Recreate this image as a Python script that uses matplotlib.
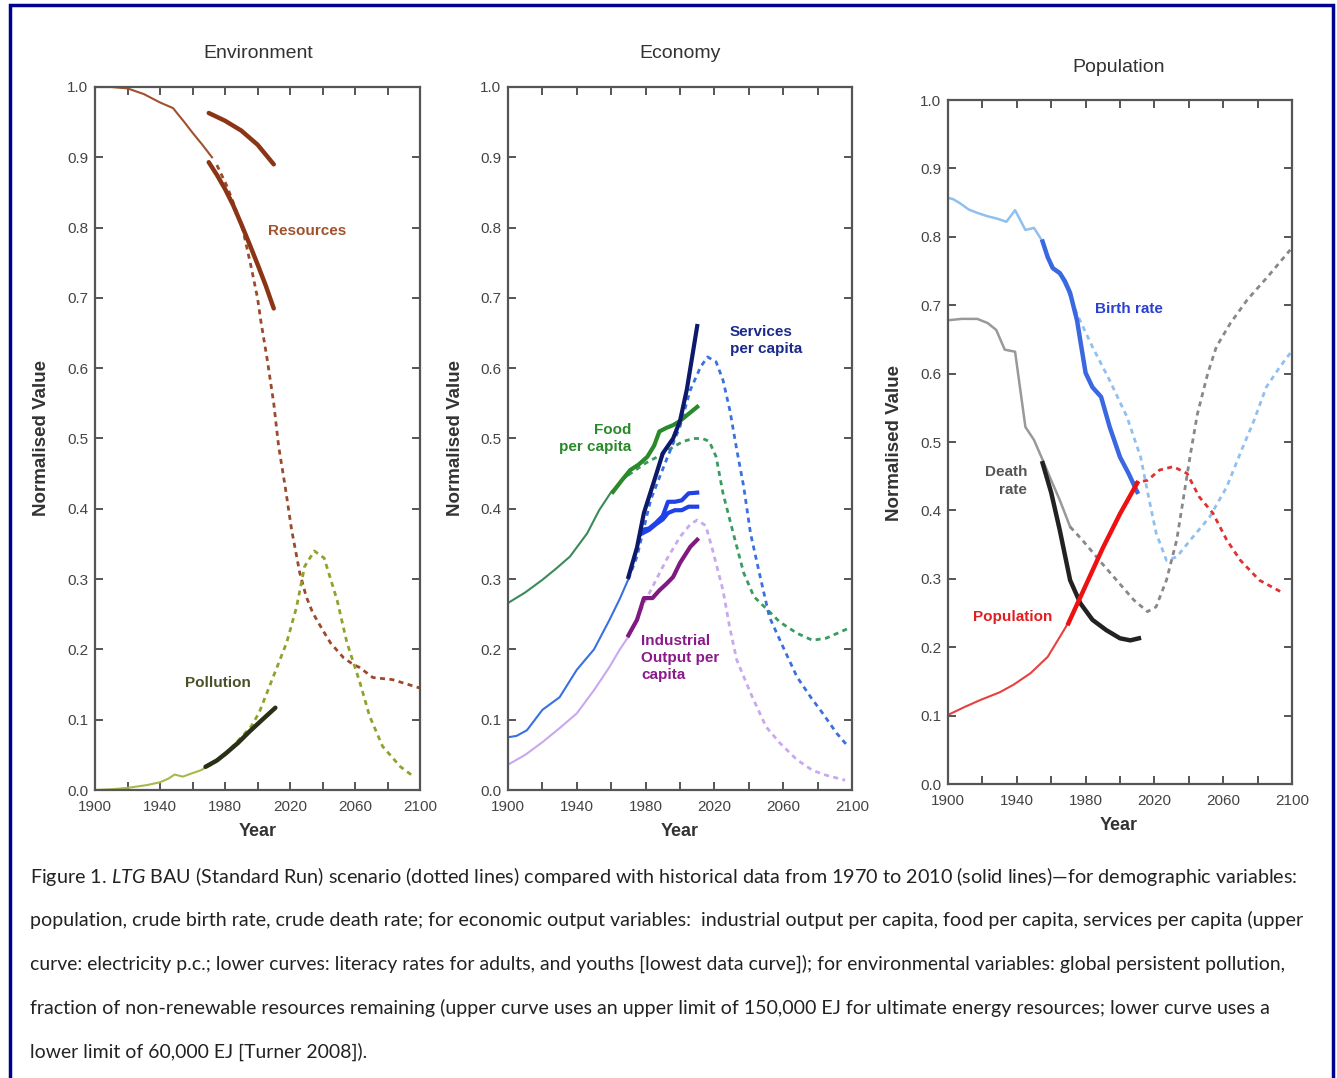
import matplotlib
matplotlib.use("Agg")
import matplotlib.pyplot as plt
from matplotlib.patches import Rectangle
from matplotlib.ticker import MultipleLocator, FixedLocator, FormatStrFormatter

plt.rcParams['font.family'] = ['Liberation Sans', 'DejaVu Sans']
plt.rcParams['mathtext.fontset'] = 'custom'
plt.rcParams['mathtext.rm'] = 'Lato'
plt.rcParams['mathtext.it'] = 'Lato:italic'

year_labels = [1900, 1940, 1980, 2020, 2060, 2100]
year_ticks = [1900, 1920, 1940, 1960, 1980, 2000, 2020, 2040, 2060, 2080, 2100]

# ---- Environment ----
res_model_solid_yr = [1900, 1910, 1920, 1930, 1940, 1948, 1955, 1960, 1966, 1972]
res_model_solid = [1.0, 1.0, 0.998, 0.99, 0.978, 0.97, 0.95, 0.935, 0.918, 0.90]
res_model_dash_yr = [1975, 1981, 1986, 1991, 1996, 2000, 2002, 2006, 2010, 2013, 2017, 2021,
                     2026, 2030, 2034, 2040, 2045, 2053, 2058, 2063, 2071, 2083, 2100]
res_model_dash = [0.889, 0.86, 0.83, 0.797, 0.745, 0.70, 0.668, 0.612, 0.55, 0.489, 0.432, 0.37,
                  0.309, 0.275, 0.252, 0.228, 0.209, 0.188, 0.18, 0.174, 0.16, 0.157, 0.145]
res_low_yr = [1970, 1975, 1980, 1985, 1990, 1995, 2000, 2005, 2010]
res_low = [0.893, 0.875, 0.855, 0.832, 0.805, 0.777, 0.748, 0.718, 0.685]
res_high_yr = [1970, 1980, 1990, 2000, 2010]
res_high = [0.963, 0.952, 0.938, 0.918, 0.89]

pol_model_solid_yr = [1900, 1910, 1920, 1932, 1940, 1945, 1949, 1954, 1960, 1965, 1970]
pol_model_solid = [0.0, 0.001, 0.003, 0.007, 0.011, 0.016, 0.022, 0.019, 0.024, 0.028, 0.034]
pol_model_dash_yr = [1970, 1980, 1990, 1996, 2001, 2009, 2018, 2024, 2029, 2035, 2041, 2049,
                     2055, 2063, 2069, 2077, 2088, 2095]
pol_model_dash = [0.034, 0.05, 0.075, 0.09, 0.11, 0.157, 0.21, 0.26, 0.318, 0.34, 0.33, 0.27,
                  0.21, 0.153, 0.105, 0.062, 0.033, 0.021]
pol_hist_yr = [1968, 1975, 1981, 1988, 1995, 2002, 2011]
pol_hist = [0.033, 0.042, 0.053, 0.067, 0.083, 0.098, 0.117]

# ---- Economy ----
food_model_solid_yr = [1900, 1910, 1920, 1928, 1936, 1946, 1953, 1960, 1966, 1970]
food_model_solid = [0.266, 0.281, 0.299, 0.315, 0.332, 0.365, 0.398, 0.424, 0.44, 0.448]
food_model_dash_yr = [1970, 1980, 1990, 1996, 2002, 2008, 2013, 2017, 2021, 2025, 2031, 2037,
                      2043, 2051, 2058, 2068, 2077, 2085, 2098]
food_model_dash = [0.448, 0.465, 0.478, 0.488, 0.496, 0.50, 0.50, 0.496, 0.474, 0.422, 0.365, 0.309,
                   0.275, 0.256, 0.239, 0.223, 0.213, 0.216, 0.23]
food_hist_yr = [1961, 1966, 1971, 1976, 1981, 1985, 1988, 1992, 1996, 2000, 2004, 2010]
food_hist = [0.424, 0.44, 0.455, 0.463, 0.474, 0.49, 0.51, 0.515, 0.519, 0.525, 0.533, 0.545]

serv_model_solid_yr = [1900, 1905, 1911, 1920, 1930, 1940, 1950, 1959, 1965, 1970]
serv_model_solid = [0.075, 0.077, 0.085, 0.114, 0.132, 0.171, 0.20, 0.242, 0.272, 0.30]
serv_model_dash_yr = [1970, 1975, 1983, 1992, 2000, 2006, 2012, 2016, 2021, 2025, 2029, 2033,
                      2037, 2041, 2046, 2052, 2060, 2068, 2076, 2083, 2091, 2097]
serv_model_dash = [0.30, 0.332, 0.413, 0.469, 0.517, 0.569, 0.602, 0.616, 0.609, 0.583, 0.54, 0.484,
                   0.432, 0.365, 0.31, 0.246, 0.203, 0.161, 0.132, 0.109, 0.081, 0.064]
elec_hist_yr = [1970, 1975, 1979, 1985, 1990, 1996, 2000, 2004, 2007, 2010]
elec_hist = [0.303, 0.345, 0.394, 0.44, 0.479, 0.50, 0.525, 0.57, 0.615, 0.66]
lit_yr = [1978, 1982, 1986, 1990, 1993, 1997, 2001, 2005, 2010]
lit_adult = [0.37, 0.372, 0.38, 0.39, 0.41, 0.41, 0.412, 0.422, 0.423]
lit_youth = [0.365, 0.37, 0.378, 0.385, 0.394, 0.398, 0.398, 0.403, 0.403]

ind_model_solid_yr = [1900, 1910, 1920, 1930, 1940, 1950, 1959, 1965, 1970]
ind_model_solid = [0.036, 0.05, 0.068, 0.088, 0.109, 0.142, 0.175, 0.20, 0.218]
ind_model_dash_yr = [1970, 1980, 1992, 2000, 2006, 2010, 2015, 2019, 2025, 2029, 2033, 2041,
                     2050, 2058, 2068, 2077, 2085, 2096]
ind_model_dash = [0.218, 0.27, 0.327, 0.36, 0.378, 0.384, 0.376, 0.341, 0.284, 0.23, 0.185, 0.138,
                  0.09, 0.067, 0.043, 0.028, 0.021, 0.014]
ind_hist_yr = [1970, 1975, 1979, 1984, 1988, 1992, 1996, 2000, 2006, 2010]
ind_hist = [0.22, 0.242, 0.273, 0.273, 0.284, 0.293, 0.303, 0.323, 0.346, 0.356]

# ---- Population ----
birth_model_solid_yr = [1900, 1903, 1907, 1912, 1917, 1923, 1928, 1934, 1939, 1945, 1950, 1955,
                        1960, 1965, 1970]
birth_model_solid = [0.857, 0.855, 0.849, 0.84, 0.835, 0.83, 0.827, 0.822, 0.839, 0.81, 0.813, 0.793,
                     0.755, 0.745, 0.72]
birth_model_dash_yr = [1970, 1975, 1984, 1994, 2004, 2012, 2017, 2021, 2027, 2033, 2041, 2052,
                       2062, 2070, 2078, 2085, 2093, 2099]
birth_model_dash = [0.72, 0.687, 0.639, 0.59, 0.537, 0.478, 0.415, 0.367, 0.327, 0.332, 0.357, 0.39,
                    0.434, 0.484, 0.532, 0.58, 0.61, 0.63]
birth_hist_yr = [1955, 1958, 1961, 1965, 1968, 1971, 1975, 1980, 1984, 1989, 1994, 2000, 2005, 2010]
birth_hist = [0.793, 0.77, 0.754, 0.747, 0.735, 0.718, 0.678, 0.601, 0.58, 0.566, 0.522, 0.478,
              0.454, 0.427]

death_model_solid_yr = [1900, 1908, 1917, 1923, 1928, 1933, 1939, 1945, 1950, 1955, 1960, 1965, 1971]
death_model_solid = [0.678, 0.68, 0.68, 0.674, 0.664, 0.635, 0.632, 0.522, 0.503, 0.474, 0.444,
                     0.415, 0.376]
death_model_dash_yr = [1971, 1978, 1988, 1998, 2008, 2016, 2021, 2027, 2033, 2037, 2041, 2045,
                       2051, 2056, 2064, 2074, 2086, 2099]
death_model_dash = [0.376, 0.357, 0.327, 0.298, 0.269, 0.252, 0.259, 0.298, 0.357, 0.42, 0.483,
                    0.541, 0.60, 0.639, 0.673, 0.708, 0.742, 0.781]
death_hist_yr = [1955, 1960, 1965, 1971, 1977, 1984, 1992, 2000, 2006, 2011]
death_hist = [0.469, 0.426, 0.371, 0.298, 0.264, 0.24, 0.225, 0.213, 0.21, 0.213]

pop_model_solid_yr = [1900, 1910, 1919, 1930, 1938, 1948, 1958, 1965, 1971]
pop_model_solid = [0.101, 0.113, 0.123, 0.134, 0.145, 0.162, 0.186, 0.215, 0.24]
pop_model_dash_yr = [2008, 2016, 2023, 2031, 2039, 2046, 2054, 2062, 2070, 2081, 2095]
pop_model_dash = [0.44, 0.444, 0.459, 0.464, 0.454, 0.42, 0.396, 0.357, 0.327, 0.298, 0.279]
pop_hist_yr = [1970, 1980, 1990, 2000, 2010]
pop_hist = [0.235, 0.29, 0.345, 0.395, 0.44]

caption = [
    "Figure 1. $\\mathit{LTG}$ BAU (Standard Run) scenario (dotted lines) compared with historical data from 1970 to 2010 (solid lines)\u2014for demographic variables:",
    "population, crude birth rate, crude death rate; for economic output variables:  industrial output per capita, food per capita, services per capita (upper",
    "curve: electricity p.c.; lower curves: literacy rates for adults, and youths [lowest data curve]); for environmental variables: global persistent pollution,",
    "fraction of non-renewable resources remaining (upper curve uses an upper limit of 150,000 EJ for ultimate energy resources; lower curve uses a",
    "lower limit of 60,000 EJ [Turner 2008]).",
]
caption_right = [1302, 1305, 1288, 1270, 369]

W, H = 1337, 1078
fig = plt.figure(figsize=(W / 100, H / 100), dpi=100)


def fx(x):
    return x / W


def fy(y):
    return 1 - y / H


def panel(l, t, r, b):
    ax = fig.add_axes([fx(l), fy(b), fx(r) - fx(l), fy(t) - fy(b)])
    ax.set_xlim(1900, 2100)
    ax.set_ylim(0, 1)
    ax.xaxis.set_major_locator(FixedLocator(year_labels))
    ax.xaxis.set_minor_locator(FixedLocator(year_ticks))
    ax.yaxis.set_major_locator(MultipleLocator(0.1))
    ax.yaxis.set_major_formatter(FormatStrFormatter('%.1f'))
    ax.tick_params(which='both', direction='in', top=True, right=True, length=6,
                   width=1.4, color='#555555', labelsize=11, labelcolor='#444444')
    ax.tick_params(axis='x', pad=7)
    ax.tick_params(axis='y', pad=5)
    for s in ax.spines.values():
        s.set_color('#555555')
        s.set_linewidth(1.6)
    return ax


DASH = (0, (1.8, 1.6))

# Environment panel
ax1 = panel(95, 87, 420, 790)
ax1.plot(res_model_solid_yr, res_model_solid, color='#a0522d', lw=1.5)
ax1.plot(res_model_dash_yr, res_model_dash, color='#9b4a2c', lw=2.0, ls=DASH)
ax1.plot(pol_model_solid_yr, pol_model_solid, color='#a8b84a', lw=1.5)
ax1.plot(pol_model_dash_yr, pol_model_dash, color='#8fa32a', lw=2.0, ls=DASH)
ax1.plot(res_low_yr, res_low, color='#8b3515', lw=3.2, solid_capstyle='round')
ax1.plot(res_high_yr, res_high, color='#8b3515', lw=3.2, solid_capstyle='round')
ax1.plot(pol_hist_yr, pol_hist, color='#283018', lw=3.2, solid_capstyle='round')
ax1.text(2006.5, 0.795, "Resources", color='#a0522d', fontsize=11, fontweight='bold', va='center')
ax1.text(1955.4, 0.152, "Pollution", color='#4a5028', fontsize=11, fontweight='bold', va='center')

# Economy panel
ax2 = panel(508, 87, 852, 790)
ax2.plot(food_model_solid_yr, food_model_solid, color='#3a8a5a', lw=1.5)
ax2.plot(food_model_dash_yr, food_model_dash, color='#3a9a60', lw=2.0, ls=DASH)
ax2.plot(serv_model_solid_yr, serv_model_solid, color='#3a70e0', lw=1.5)
ax2.plot(serv_model_dash_yr, serv_model_dash, color='#3a70e0', lw=2.0, ls=DASH)
ax2.plot(ind_model_solid_yr, ind_model_solid, color='#c8a8f0', lw=1.5)
ax2.plot(ind_model_dash_yr, ind_model_dash, color='#c8a8f0', lw=2.0, ls=DASH)
ax2.plot(food_hist_yr, food_hist, color='#2a8a2a', lw=3.0)
ax2.plot(lit_yr, lit_adult, color='#2040e8', lw=3.0)
ax2.plot(lit_yr, lit_youth, color='#2040e8', lw=3.0)
ax2.plot(ind_hist_yr, ind_hist, color='#801a80', lw=3.0)
ax2.plot(elec_hist_yr, elec_hist, color='#0d1a6b', lw=3.0)
ax2.text(2029, 0.639, "Services\nper capita", color='#1a2a8a', fontsize=11, fontweight='bold',
         va='center', linespacing=1.3)
ax2.text(1971.5, 0.50, "Food\nper capita", color='#2a8a2a', fontsize=11, fontweight='bold',
         va='center', ha='right', multialignment='right', linespacing=1.3)
ax2.text(1977.3, 0.188, "Industrial\nOutput per\ncapita", color='#8a1a8a', fontsize=11,
         fontweight='bold', va='center', linespacing=1.3)

# Population panel
ax3 = panel(948, 100, 1292, 784)
ax3.plot(birth_model_solid_yr, birth_model_solid, color='#90c0f0', lw=1.8)
ax3.plot(birth_model_dash_yr, birth_model_dash, color='#90c0f0', lw=2.0, ls=DASH)
ax3.plot(death_model_solid_yr, death_model_solid, color='#999999', lw=1.8)
ax3.plot(death_model_dash_yr, death_model_dash, color='#888888', lw=2.0, ls=DASH)
ax3.plot(pop_model_solid_yr, pop_model_solid, color='#e84040', lw=1.5)
ax3.plot(pop_model_dash_yr, pop_model_dash, color='#e03030', lw=2.0, ls=DASH)
ax3.plot(birth_hist_yr, birth_hist, color='#3a68e0', lw=3.2)
ax3.plot(death_hist_yr, death_hist, color='#222222', lw=3.2)
ax3.plot(pop_hist_yr, pop_hist, color='#ee1111', lw=3.2)
ax3.text(1985.5, 0.694, "Birth rate", color='#2a40d0', fontsize=11, fontweight='bold', va='center')
ax3.text(1946, 0.443, "Death\nrate", color='#555555', fontsize=11, fontweight='bold',
         va='center', ha='right', multialignment='right', linespacing=1.3)
ax3.text(1914.5, 0.244, "Population", color='#e02020', fontsize=11, fontweight='bold', va='center')

# titles and axis labels
for x, y, t in [(258, 53, "Environment"), (680, 53, "Economy"), (1119, 67, "Population")]:
    fig.text(fx(x), fy(y), t, ha='center', va='center', fontsize=14, color='#333333')
for x, y in [(42, 438), (455, 438), (895, 443)]:
    fig.text(fx(x), fy(y), "Normalised Value", ha='center', va='center', rotation=90,
             fontsize=13.5, fontweight='bold', color='#333333')
for x, y in [(258, 832), (680, 832), (1119, 826)]:
    fig.text(fx(x), fy(y), "Year", ha='center', va='center', fontsize=13,
             fontweight='bold', color='#333333')

# caption, each line sized to its width in the figure
fig.canvas.draw()
renderer = fig.canvas.get_renderer()
cap_y = [876, 920, 964, 1008, 1052]
for line, y, right in zip(caption, cap_y, caption_right):
    t = fig.text(fx(30), fy(y), line, ha='left', va='center', fontsize=14,
                 family='Lato', color='#222222')
    w = t.get_window_extent(renderer).width
    t.set_fontsize(14 * (right - 30) / w)

# blue frame
fig.patches.append(Rectangle((fx(10), -0.01), fx(1333) - fx(10), fy(5) + 0.01,
                             transform=fig.transFigure, fill=False,
                             edgecolor='#000090', lw=2.5, clip_on=False))

fig.savefig("out.png", dpi=100)
